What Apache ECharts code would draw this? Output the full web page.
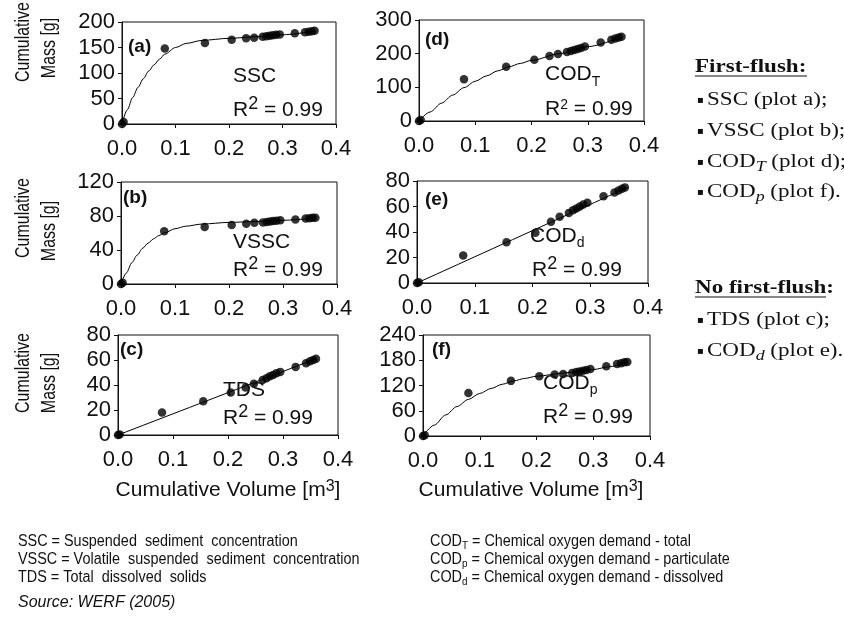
<!DOCTYPE html>
<html><head><meta charset="utf-8">
<script src="https://cdn.jsdelivr.net/npm/echarts@6/dist/echarts.min.js"></script>
<style>html,body{margin:0;padding:0;background:#fff}#c{width:844px;height:618px}</style>
</head><body><div id="c"></div>
<script>
// ---------- data ----------
const volume = [0, 0.003, 0.08, 0.155, 0.205, 0.232, 0.247, 0.263, 0.27, 0.276, 0.282, 0.288, 0.295, 0.323, 0.342, 0.349, 0.355, 0.36];
const massSSC  = [0, 4, 148, 159, 165, 168, 169, 171, 172, 173, 174, 175, 175.5, 178, 180, 181, 182, 183];
const massVSSC = [0, 1.5, 62, 67, 69.5, 71, 72, 72.5, 73, 73.5, 74, 74.5, 75, 76, 77, 77.5, 78, 78];
const massTDS  = [0, 0.5, 18, 27, 34, 38, 41, 44, 45.5, 47, 48, 49.5, 50.5, 54.5, 57.5, 59, 60, 61];
const massCODT = [0, 3, 124, 161, 182, 193, 199, 205, 208, 211, 214, 217, 221, 233, 241, 245, 248, 250];
const massCODd = [0, 0.5, 21.5, 32, 39.5, 48, 52, 55, 57, 58.5, 60, 61.5, 63, 68, 71, 72.5, 74, 75];
const massCODp = [0, 2, 102, 131, 142, 146, 147.5, 150, 152, 153.5, 155, 157, 159, 166, 171, 173, 175, 176];

// fitted curves, points
const curveSSC  = [[0,0],[0.01,28],[0.02,52],[0.03,72],[0.04,89],[0.05,104],[0.06,116],[0.07,127],[0.08,137],[0.1,150],[0.12,158],[0.15,164],[0.2,168],[0.25,171],[0.3,175],[0.36,182]];
const curveVSSC = [[0,0],[0.01,13],[0.02,25],[0.03,34],[0.04,42],[0.05,48],[0.06,53],[0.07,57],[0.08,60],[0.1,65],[0.12,68],[0.15,70.5],[0.2,72.5],[0.25,73.5],[0.3,75],[0.36,77.5]];
const curveTDS  = [[0,0],[0.36,61]];
const curveCODT = [[0,0],[0.02,27],[0.04,53],[0.06,77],[0.08,99],[0.1,118],[0.12,134],[0.14,149],[0.16,161],[0.18,171],[0.2,180],[0.25,200],[0.3,221],[0.36,250]];
const curveCODd = [[0,0],[0.365,75]];
const curveCODp = [[0,0],[0.02,26],[0.04,50],[0.06,70],[0.08,87],[0.1,101],[0.12,113],[0.14,123],[0.16,131],[0.18,137],[0.2,142],[0.25,150],[0.3,158],[0.33,165],[0.36,175]];

// axis ranges / ticks
const xMax = 0.4, xStep = 0.1;
const yMaxSSC = 200, yStepSSC = 50;
const yMaxVSSC = 120, yStepVSSC = 40;
const yMaxTDS = 80, yStepTDS = 20;
const yMaxCODT = 300, yStepCODT = 100;
const yMaxCODd = 80, yStepCODd = 20;
const yMaxCODp = 240, yStepCODp = 60;

// ---------- layout ----------
const SANS = "'Liberation Sans', Arial, Helvetica, sans-serif";
const SERIF = "'Liberation Serif', 'Times New Roman', serif";
const INK = '#111';

const panels = [
  {mass: massSSC,  curve: curveSSC,  yMax: yMaxSSC,  yStep: yStepSSC,  grid: {left:122, top:22,  width:214, height:102}},
  {mass: massCODT, curve: curveCODT, yMax: yMaxCODT, yStep: yStepCODT, grid: {left:419, top:20,  width:225, height:101}},
  {mass: massVSSC, curve: curveVSSC, yMax: yMaxVSSC, yStep: yStepVSSC, grid: {left:121, top:182, width:216, height:102}},
  {mass: massCODd, curve: curveCODd, yMax: yMaxCODd, yStep: yStepCODd, grid: {left:417, top:181, width:231, height:102}},
  {mass: massTDS,  curve: curveTDS,  yMax: yMaxTDS,  yStep: yStepTDS,  grid: {left:118, top:335, width:220, height:100}},
  {mass: massCODp, curve: curveCODp, yMax: yMaxCODp, yStep: yStepCODp, grid: {left:423, top:335, width:227, height:101}}
];

const grids = [], xAxes = [], yAxes = [], series = [];
panels.forEach((p, i) => {
  grids.push(Object.assign({show: true, borderColor: INK, borderWidth: 1, backgroundColor: 'transparent',
    containLabel: false, outerBoundsMode: 'none'}, p.grid));
  const axisCommon = {
    gridIndex: i, type: 'value',
    axisLine: {show: true, onZero: false, lineStyle: {color: INK, width: 1}},
    axisTick: {show: true, inside: false, length: 4, lineStyle: {color: INK, width: 1}},
    splitLine: {show: false}
  };
  xAxes.push(Object.assign({}, axisCommon, {
    min: 0, max: xMax, interval: xStep,
    axisLabel: {fontFamily: SANS, fontSize: 22, color: INK, margin: 14, formatter: v => v.toFixed(1)}
  }));
  yAxes.push(Object.assign({}, axisCommon, {
    min: 0, max: p.yMax, interval: p.yStep,
    axisLabel: {fontFamily: SANS, fontSize: 22, color: INK, margin: 7}
  }));
  series.push({
    type: 'line', xAxisIndex: i, yAxisIndex: i, data: p.curve,
    smooth: 0.3, smoothMonotone: 'x', symbol: 'none', silent: true,
    lineStyle: {color: '#000', width: 1}, z: 2, animation: false
  });
  series.push({
    type: 'scatter', xAxisIndex: i, yAxisIndex: i,
    data: volume.map((v, k) => [v, p.mass[k]]),
    symbol: 'circle', symbolSize: 8.5, itemStyle: {color: '#000'}, z: 3, animation: false
  });
});

// ---------- text annotations ----------
const g = [];
function txt(x, y, text, o) {
  o = o || {};
  const el = {type: 'text', x: x, y: y, z: 10,
    style: Object.assign({text: text, fill: INK, fontFamily: SANS, fontSize: 21,
      align: 'left', verticalAlign: 'middle'}, o.style || {})};
  if (o.rotation) el.rotation = o.rotation;
  if (o.scaleX) el.scaleX = o.scaleX;
  if (o.scaleY) el.scaleY = o.scaleY;
  g.push(el);
}
// y axis titles
[[42, 48], [218, 231], [373, 383]].forEach(c => {
  txt(23, c[0], 'Cumulative', {rotation: Math.PI / 2, scaleX: 0.76, style: {align: 'center', fontSize: 21}});
  txt(49, c[1], 'Mass [g]',   {rotation: Math.PI / 2, scaleX: 0.76, style: {align: 'center', fontSize: 21}});
});
// panel letters
[['(a)', 128, 47], ['(d)', 425, 40], ['(b)', 123, 198], ['(e)', 425, 200], ['(c)', 120, 350], ['(f)', 432, 350]]
  .forEach(l => txt(l[1], l[2], l[0], {style: {fontWeight: 'bold', fontSize: 19}}));
// names
txt(233, 76, 'SSC');
txt(233, 242, 'VSSC');
txt(223, 390, 'TDS');
const subRich = {
  m: {fontFamily: SANS, fontSize: 21, lineHeight: 21, verticalAlign: 'top', fill: INK},
  t: {fontFamily: SANS, fontSize: 14, lineHeight: 25, verticalAlign: 'bottom', fill: INK}
};
function sub(x, cy, main, s) {
  txt(x, cy - 10.5, '{m|' + main + '}{t|' + s + '}', {style: {rich: subRich, verticalAlign: 'top'}});
}
sub(545, 74.5, 'COD', 'T');
sub(530, 236, 'COD', 'd');
sub(543, 383, 'COD', 'p');
const r2Big = {
  m: {fontFamily: SANS, fontSize: 21, lineHeight: 25, verticalAlign: 'bottom', fill: INK},
  s: {fontFamily: SANS, fontSize: 18, lineHeight: 18, verticalAlign: 'top', fill: INK}
};
const r2Small = {
  m: {fontFamily: SANS, fontSize: 21, lineHeight: 21, verticalAlign: 'bottom', fill: INK},
  s: {fontFamily: SANS, fontSize: 14, lineHeight: 14, verticalAlign: 'top', fill: INK}
};
function r2(x, cy, rich) {
  const off = rich.m.lineHeight - 10.5;
  txt(x, cy - off, '{m|R}{s|2}{m| = 0.99}', {style: {rich: rich, verticalAlign: 'top'}});
}
r2(233, 110, r2Big);
r2(545, 109, r2Small);
r2(233, 270, r2Big);
r2(532, 270, r2Big);
r2(223, 418, r2Big);
r2(543, 417, r2Big);
// x axis titles
const volRich = {
  m: {fontFamily: SANS, fontSize: 21, lineHeight: 22, verticalAlign: 'bottom', fill: INK},
  s: {fontFamily: SANS, fontSize: 16, lineHeight: 16, verticalAlign: 'top', fill: INK}
};
function volTitle(cx, cy) {
  txt(cx, cy - (22 - 10.5), '{m|Cumulative Volume [m}{s|3}{m|]}', {style: {rich: volRich, align: 'center', verticalAlign: 'top'}});
}
volTitle(228, 490);
volTitle(531, 490);

// ---------- legend on the right ----------
const LS = 1.28;
function legHead(x, y, text) {
  txt(x, y, text, {scaleX: LS, style: {fontFamily: SERIF, fontSize: 18, fontWeight: 'bold'}});
}
function underline(x1, x2, y) {
  g.push({type: 'line', shape: {x1: x1, y1: y, x2: x2, y2: y}, style: {stroke: INK, lineWidth: 1}, z: 10});
}
const legRich = {
  n: {fontFamily: SERIF, fontSize: 18, lineHeight: 18, verticalAlign: 'top', fill: INK},
  i: {fontFamily: SERIF, fontSize: 14, fontStyle: 'italic', lineHeight: 21, verticalAlign: 'bottom', fill: INK}
};
function legItem(y, rich) {
  txt(697, y, '\u25AA', {style: {fontFamily: "'DejaVu Sans', sans-serif", fontSize: 10}});
  txt(707, y - 9, rich, {scaleX: LS, style: {rich: legRich, verticalAlign: 'top'}});
}
legHead(695, 67, 'First-flush:');
underline(695, 807, 76);
legItem(100, '{n|SSC (plot a);}');
legItem(131, '{n|VSSC (plot b);}');
legItem(162, '{n|COD}{i|T}{n| (plot d);}');
legItem(192, '{n|COD}{i|p}{n| (plot f).}');
legHead(695, 288, 'No first-flush:');
underline(695, 826, 297);
legItem(320, '{n|TDS (plot c);}');
legItem(351, '{n|COD}{i|d}{n| (plot e).}');

// ---------- footnotes ----------
const FS = 0.9;
const footRich = {
  m: {fontFamily: SANS, fontSize: 16, lineHeight: 16, verticalAlign: 'top', fill: INK},
  t: {fontFamily: SANS, fontSize: 11, lineHeight: 17, verticalAlign: 'bottom', fill: INK}
};
function foot(x, cy, rich) {
  txt(x, cy - 8, rich, {scaleX: FS, style: {rich: footRich, verticalAlign: 'top'}});
}
foot(18, 542, '{m|SSC = Suspended  sediment  concentration}');
foot(18, 560, '{m|VSSC = Volatile  suspended  sediment  concentration}');
foot(18, 578, '{m|TDS = Total  dissolved  solids}');
foot(430, 542, '{m|COD}{t|T}{m| = Chemical oxygen demand - total}');
foot(430, 560, '{m|COD}{t|p}{m| = Chemical oxygen demand - particulate}');
foot(430, 578, '{m|COD}{t|d}{m| = Chemical oxygen demand - dissolved}');
txt(18, 603, 'Source: WERF (2005)', {style: {fontSize: 16, fontStyle: 'italic'}});

const chart = echarts.init(document.getElementById('c'), null, {renderer: 'canvas'});
chart.setOption({
  animation: false,
  backgroundColor: '#fff',
  grid: grids, xAxis: xAxes, yAxis: yAxes, series: series,
  graphic: {elements: g}
});
</script>
</body></html>
